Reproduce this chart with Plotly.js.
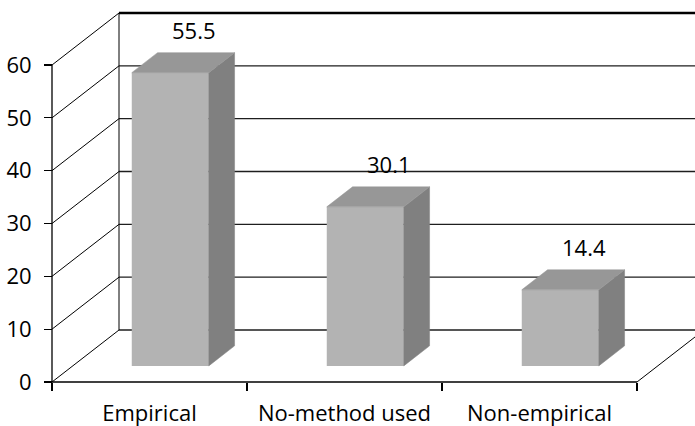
<!DOCTYPE html>
<html>
<head>
<meta charset="utf-8">
<script src="https://cdn.plot.ly/plotly-3.0.1.min.js"></script>
<style>
  html, body { margin: 0; padding: 0; background: #ffffff; }
  #chart { width: 695px; height: 426px; }
</style>
</head>
<body>
<div id="chart"></div>
<script>
// Share of studies by method type (%)
const categories = ['Empirical', 'No-method used', 'Non-empirical'];
const values = [55.5, 30.1, 14.4];
const yTicks = [0, 10, 20, 30, 40, 50, 60];

// ---- oblique 3-D geometry (pixels -> data units) ----
const W_PX = 695, H_PX = 426;
const M = { l: 40, r: 0, t: 8, b: 30 };
const AXIS_X_PX = 52;       // front value axis
const AXIS_Y_PX = 382;      // front floor edge
const PX_PER_CAT = 195;
const PX_PER_VAL = 317 / 60;
const DX = 67 / PX_PER_CAT; // full depth, horizontal component
const DY = 52 / PX_PER_VAL; // full depth, vertical component
const BAR_W = 77 / PX_PER_CAT;
const F0 = 0.31;            // depth of bar front face
const FD = 0.385;           // bar depth

const plotW = W_PX - M.l - M.r;
const plotH = H_PX - M.t - M.b;
const xRange = [-0.5 - (AXIS_X_PX - M.l) / PX_PER_CAT, -0.5 + (W_PX - M.r - AXIS_X_PX) / PX_PER_CAT];
const yRange = [-(H_PX - M.b - AXIS_Y_PX) / PX_PER_VAL, (AXIS_Y_PX - M.t) / PX_PER_VAL];
const yPos = (AXIS_X_PX - M.l) / plotW;
const xPos = (H_PX - M.b - AXIS_Y_PX) / plotH;

const idx = categories.map((_, i) => i);
const x0 = -0.5, x1 = categories.length - 0.5;
const yMax = yTicks[yTicks.length - 1];

const FONT = { family: 'Open Sans, Noto Sans, sans-serif', size: 22, color: '#000000' };

// ---- walls, floor and grid (behind the bars) ----
const shapes = [];
function seg(xa, ya, xb, yb, w, c) {
  shapes.push({ type: 'line', xref: 'x', yref: 'y', x0: xa, y0: ya, x1: xb, y1: yb,
    layer: 'below', line: { color: c, width: w } });
}
yTicks.forEach(v => {
  // back wall gridline
  seg(x0 + DX, v + DY, x1 + DX, v + DY, v === yMax ? 2.6 : 1.4, v === yMax ? '#000000' : '#1e1e1e');
  // side wall diagonal
  seg(x0, v, x0 + DX, v + DY, 1, '#000000');
});
seg(x0 + DX, DY, x0 + DX, yMax + DY, 1, '#000000');   // back wall left edge
seg(x0, 0, x0, yMax, 1.3, '#000000');                 // front value axis
seg(x0, 0, x1, 0, 1.3, '#000000');                    // floor front edge
seg(x1, 0, x1 + DX, DY, 1, '#000000');                // floor right edge

// ---- bars: front faces ----
const traces = [{
  type: 'bar',
  x: idx,
  y: values,
  base: values.map(() => F0 * DY),
  width: BAR_W,
  offset: -BAR_W / 2 + F0 * DX,
  marker: { color: '#b3b3b3', line: { width: 0 } },
  hoverinfo: 'skip',
  showlegend: false
}];

// ---- bars: side and top faces ----
values.forEach((v, i) => {
  const xl = i - BAR_W / 2 + F0 * DX, xr = xl + BAR_W;
  const yb = F0 * DY, yt = yb + v;
  const ddx = FD * DX, ddy = FD * DY;
  traces.push({
    type: 'scatter', mode: 'lines', fill: 'toself',
    x: [xr, xr, xr + ddx, xr + ddx, xr],
    y: [yb, yt, yt + ddy, yb + ddy, yb],
    fillcolor: '#808080', line: { width: 0.5, color: '#808080' },
    hoverinfo: 'skip', showlegend: false
  });
  traces.push({
    type: 'scatter', mode: 'lines', fill: 'toself',
    x: [xl, xr, xr + ddx, xl + ddx, xl],
    y: [yt, yt, yt + ddy, yt + ddy, yt],
    fillcolor: '#979797', line: { width: 0.5, color: '#979797' },
    hoverinfo: 'skip', showlegend: false
  });
});

// ---- value labels ----
const annotations = values.map((v, i) => ({
  x: i + 0.23, y: v + 11.2, xref: 'x', yref: 'y',
  text: String(v), showarrow: false, font: FONT,
  xanchor: 'center', yanchor: 'middle'
}));

const layout = {
  width: W_PX, height: H_PX,
  margin: M,
  paper_bgcolor: '#ffffff', plot_bgcolor: '#ffffff',
  showlegend: false,
  xaxis: {
    type: 'linear', range: xRange, anchor: 'free', position: xPos,
    tickvals: [-0.5, 0.5, 1.5, 2.5], ticktext: ['', '', '', ''],
    ticks: 'outside', ticklen: 8, tickwidth: 1.2, tickcolor: '#000000',
    showgrid: false, zeroline: false, showline: false, fixedrange: true
  },
  xaxis2: {
    type: 'linear', overlaying: 'x', matches: 'x', anchor: 'free', position: xPos, side: 'bottom',
    tickvals: idx, ticktext: categories, ticks: '',
    tickfont: FONT, ticklabelstandoff: 16,
    showgrid: false, zeroline: false, showline: false, fixedrange: true
  },
  yaxis: {
    type: 'linear', range: yRange, anchor: 'free', position: yPos,
    tickvals: yTicks, ticks: 'outside', ticklen: 8, tickwidth: 1.2, tickcolor: '#000000',
    tickfont: FONT, ticklabelstandoff: 8,
    showgrid: false, zeroline: false, showline: false, fixedrange: true
  },
  shapes: shapes,
  annotations: annotations
};

// empty trace that carries the category label axis
traces.push({ type: 'scatter', x: [0], y: [0], xaxis: 'x2', mode: 'none', hoverinfo: 'skip', showlegend: false });

Plotly.newPlot('chart', traces, layout, { displayModeBar: false, staticPlot: true });
</script>
</body>
</html>
